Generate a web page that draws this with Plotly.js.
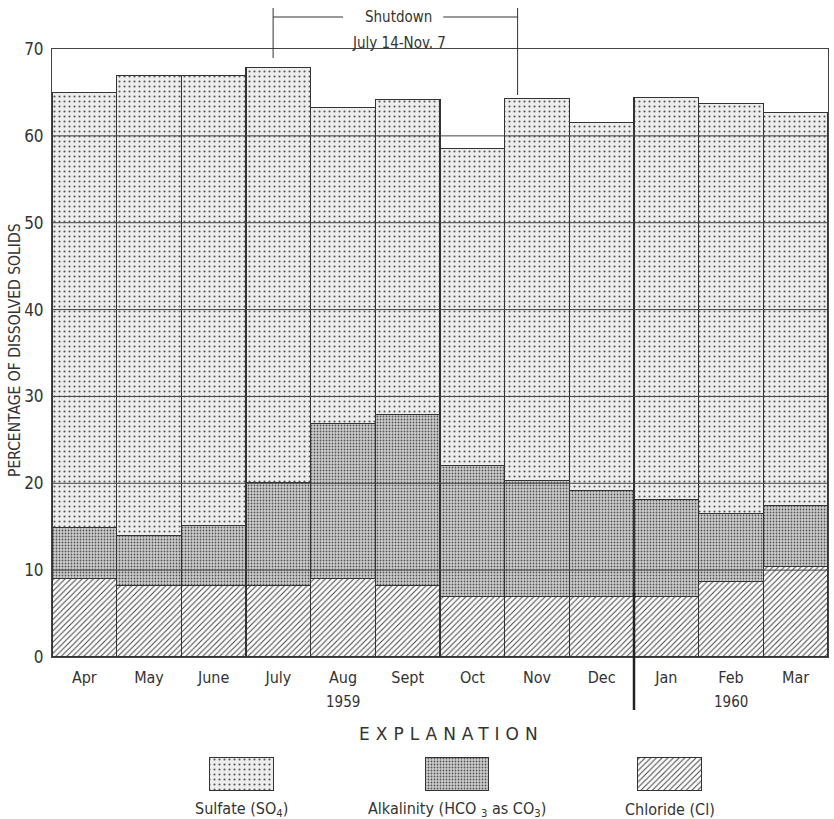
<!DOCTYPE html>
<html><head><meta charset="utf-8">
<script src="https://cdn.plot.ly/plotly-3.0.1.min.js"></script>
<style>html,body{margin:0;padding:0;background:#fff}</style>
</head><body><div id="chart" style="width:834px;height:819px"></div>
<script>
// ---- data ----
const months = ['Apr','May','June','July','Aug','Sept','Oct','Nov','Dec','Jan','Feb','Mar'];
const chloride   = [9.0, 8.2, 8.2, 8.2, 9.0, 8.2, 7.0, 7.0, 7.0, 7.0, 8.7, 10.4];
const alkalinity = [5.9, 5.8, 6.9, 11.9, 17.9, 19.7, 15.0, 13.3, 12.2, 11.1, 7.8, 7.0];
const sulfate    = [50.1, 52.9, 51.8, 47.8, 36.4, 36.3, 36.5, 44.0, 42.3, 46.3, 47.2, 45.3];
const yTicks = [0, 10, 20, 30, 40, 50, 60, 70];
const yearLabels = ['1959', '1960'];
const yearMonths = ['Aug', 'Feb'];
const seriesNames = ['Sulfate (SO<sub>4</sub>)', 'Alkalinity (HCO <sub>3</sub> as CO<sub>3</sub>)', 'Chloride (Cl)'];
const shutdownStart = {month: 'July', day: 14, days: 31};
const shutdownEnd = {month: 'Nov', day: 7, days: 30};

// ---- styles ----
const FONT = 'Liberation Sans Narrow, DejaVu Sans Condensed, Arial Narrow, sans-serif';
const INK = '#333';
const idx = months.map((_, i) => i);
const patSulfate = {shape: '.', size: 5, solidity: 0.14, fgcolor: '#555', bgcolor: '#ededed', fillmode: 'replace'};
const patAlk = {shape: '.', size: 3, solidity: 0.3, fgcolor: '#555', bgcolor: '#cfcfcf', fillmode: 'replace'};
const patCl = {shape: '/', size: 4, solidity: 0.25, fgcolor: '#444', bgcolor: '#ffffff', fillmode: 'replace'};
const outline = {color: INK, width: 1.1};

// paper geometry helper (plot area: top 49px, bottom 814px)
const H = 765, TOP = 49;
const py = px => (TOP + H - px) / H;
const mainDomain = [py(657), 1];
const legendDomain = [py(791), py(757)];
const legendX = [2.43, 5.76, 9.05];

function dayPos(d) { return months.indexOf(d.month) - 0.5 + (d.day - 1) / d.days; }
const xs = dayPos(shutdownStart), xe = dayPos(shutdownEnd);

const traces = [
  {type: 'bar', x: idx, y: chloride, name: 'Chloride', marker: {color: '#fff', pattern: patCl, line: outline}, hoverinfo: 'y+name'},
  {type: 'bar', x: idx, y: alkalinity, name: 'Alkalinity', marker: {color: '#cfcfcf', pattern: patAlk, line: outline}, hoverinfo: 'y+name'},
  {type: 'bar', x: idx, y: sulfate, name: 'Sulfate', marker: {color: '#ededed', pattern: patSulfate, line: outline}, hoverinfo: 'y+name'},
  // legend swatches
  {type: 'bar', x: [legendX[0]], y: [1], width: 0.98, xaxis: 'x2', yaxis: 'y2', marker: {color: '#ededed', pattern: patSulfate, line: outline}, hoverinfo: 'skip'},
  {type: 'bar', x: [legendX[1]], y: [1], width: 0.98, xaxis: 'x2', yaxis: 'y2', marker: {color: '#cfcfcf', pattern: patAlk, line: outline}, hoverinfo: 'skip'},
  {type: 'bar', x: [legendX[2]], y: [1], width: 0.98, xaxis: 'x2', yaxis: 'y2', marker: {color: '#fff', pattern: patCl, line: outline}, hoverinfo: 'skip'}
];

const shapes = [];
yTicks.filter(v => v > 0 && v < 70).forEach(v => shapes.push({
  type: 'line', xref: 'paper', yref: 'y', x0: 0, x1: 1, y0: v, y1: v, layer: 'above', line: {color: '#444', width: 1}
}));
// shutdown bracket
shapes.push({type: 'line', xref: 'x', yref: 'paper', x0: xs, x1: xs, y0: py(8), y1: py(58), line: {color: INK, width: 1}});
shapes.push({type: 'line', xref: 'x', yref: 'paper', x0: xs, x1: 4.0, y0: py(17), y1: py(17), line: {color: INK, width: 1}});
shapes.push({type: 'line', xref: 'x', yref: 'paper', x0: 5.55, x1: xe, y0: py(17), y1: py(17), line: {color: INK, width: 1}});
shapes.push({type: 'line', xref: 'x', yref: 'paper', x0: xe, x1: xe, y0: py(8), y1: py(95), line: {color: INK, width: 1}});
// year divider
shapes.push({type: 'line', xref: 'x', yref: 'paper', x0: 8.5, x1: 8.5, y0: py(593), y1: py(710), line: {color: '#222', width: 2.5}});

const A = (o) => Object.assign({showarrow: false, xanchor: 'center', yanchor: 'middle'}, o);
const annotations = [
  A({xref: 'x', yref: 'paper', x: (xs + xe) / 2 + 0.05, y: py(17), text: 'Shutdown', font: {family: FONT, size: 15, color: INK}}),
  A({xref: 'x', yref: 'paper', x: (xs + xe) / 2 + 0.05, y: py(43), text: 'July 14-Nov. 7', font: {family: FONT, size: 15, color: INK}}),
  A({xref: 'paper', yref: 'paper', x: (15 - 52) / 776, y: py(350), text: 'PERCENTAGE OF DISSOLVED SOLIDS', textangle: -90, font: {family: FONT, size: 15.5, color: INK}}),
  A({xref: 'paper', yref: 'paper', x: (452 - 52) / 776, y: py(734), text: '<span style="letter-spacing:6px">EXPLANATION</span>', font: {family: 'DejaVu Sans, sans-serif', size: 17, color: INK}})
];
yearLabels.forEach((t, i) => annotations.push(A({xref: 'x', yref: 'paper', x: months.indexOf(yearMonths[i]), y: py(702), text: t, font: {family: FONT, size: 15, color: INK}})));
seriesNames.forEach((t, i) => annotations.push(A({xref: 'x2', yref: 'paper', x: legendX[i], y: py(809), text: t, font: {family: FONT, size: 16, color: INK}})));

const layout = {
  width: 834, height: 819,
  margin: {l: 52, r: 6, t: 49, b: 5},
  paper_bgcolor: '#fff', plot_bgcolor: '#fff',
  barmode: 'stack', bargap: 0,
  showlegend: false,
  xaxis: {domain: [0, 1], range: [-0.5, 11.5], tickvals: idx, ticktext: months, showgrid: false, zeroline: false,
          showline: true, mirror: true, linecolor: '#444', linewidth: 1, ticks: '', ticklabelstandoff: 6,
          tickfont: {family: FONT, size: 16, color: INK}, fixedrange: true},
  yaxis: {domain: mainDomain, range: [0, 70], tickvals: yTicks, showgrid: false, zeroline: false,
          showline: true, mirror: true, linecolor: '#444', linewidth: 1, ticks: '', ticklabelstandoff: 4,
          tickfont: {family: FONT, size: 17, color: INK}, fixedrange: true},
  xaxis2: {domain: [0, 1], range: [-0.5, 11.5], anchor: 'y2', visible: false, fixedrange: true},
  yaxis2: {domain: legendDomain, range: [0, 1], anchor: 'x2', visible: false, fixedrange: true},
  shapes: shapes,
  annotations: annotations
};

Plotly.newPlot('chart', traces, layout, {displayModeBar: false, staticPlot: true});
</script>
</body></html>
